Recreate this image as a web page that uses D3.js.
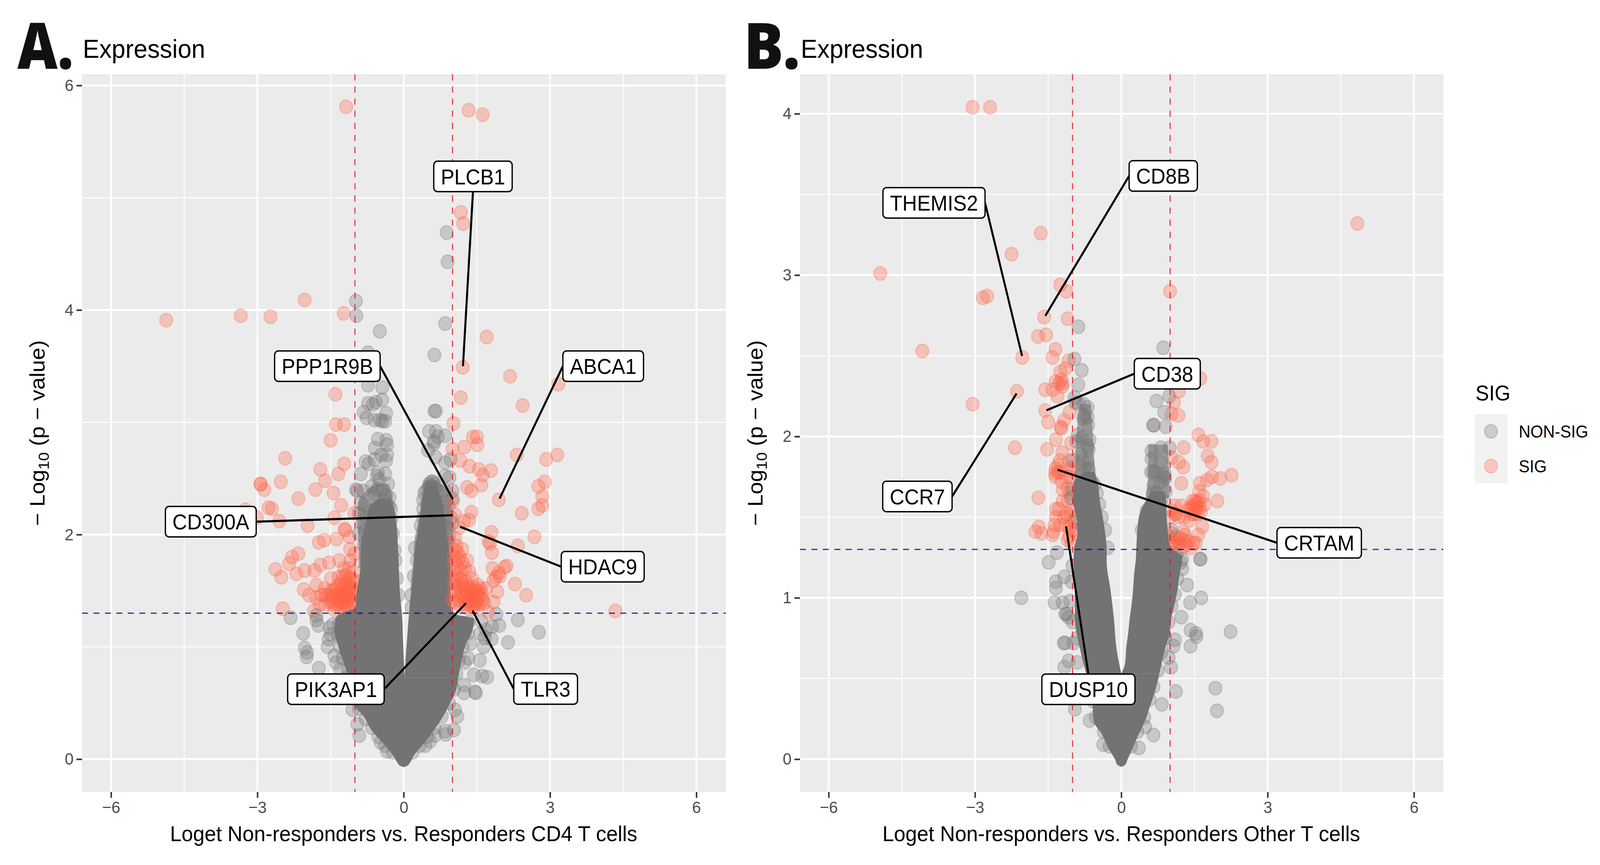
<!DOCTYPE html>
<html>
<head>
<meta charset="utf-8">
<style>
 html, body { margin: 0; padding: 0; background: #fff; overflow: hidden; }
 svg { display: block; width: 100vw; height: 100vh; }
 text { font-family: "Liberation Sans", sans-serif; }
 .tick text { fill: #4d4d4d; font-size: 43px; }
 .tick line { stroke: #333; stroke-width: 4px; }
 .axis-title { font-size: 56px; fill: #000; }
 .dot { stroke-width: 3px; stroke-opacity: 0.3; fill-opacity: 0.3; }
 .repel rect { fill: #fff; stroke: #000; stroke-width: 3.5px; }
 .repel text { font-size: 55px; fill: #000; text-anchor: middle; }
 .repel line { stroke: #000; stroke-width: 5.5px; }
</style>
</head>
<body>
<svg id="chart" viewBox="0 0 4330 2214" preserveAspectRatio="none"></svg>
<script src="https://d3js.org/d3.v7.min.js"></script>
<script>
// values, [log fold change, -log10 p]
const sigA = [
  [-4.87,3.91],[-3.34,3.95],[-2.73,3.94],[-2.03,4.09],[-1.23,3.97],[-1.18,5.81],[1.33,5.78],[1.62,5.74],[1.17,4.87],[1.22,4.77],[1.70,3.76],
  [-1.40,3.25],[-1.39,2.98],[-1.22,2.98],[-1.50,2.84],[-2.43,2.68],[-1.22,2.63],[-1.71,2.58],[-1.34,2.54],[-1.61,2.48],[-2.93,2.45],[-2.94,2.45],[-2.86,2.40],[-2.52,2.47],[-1.81,2.40],[-1.44,2.37],[-2.16,2.32],[-1.28,2.26],[-2.77,2.24],[-2.70,2.23],[-3.24,2.22],[-3.01,2.15],[-2.55,2.12],[-1.97,2.08],[-1.42,2.15],[-1.01,2.19],[-1.21,2.05],[-1.20,2.04],[-1.38,1.96],[-1.74,1.93],[-1.63,1.95],[-1.11,1.98],[-1.10,1.87],[-1.01,1.83],
  [-2.16,1.83],[-2.29,1.80],[-2.35,1.74],[-2.63,1.69],[-2.51,1.62],[-2.20,1.65],[-2.03,1.68],[-1.83,1.68],[-1.71,1.73],[-1.53,1.75],[-1.32,1.77],[-1.22,1.70],[-1.09,1.77],[-1.49,1.61],[-1.25,1.63],[-1.03,1.67],[-2.05,1.51],[-1.94,1.46],[-1.79,1.55],[-1.80,1.44],[-1.60,1.46],[-1.44,1.50],[-1.25,1.52],[-1.06,1.53],[-1.01,1.59],
  [-1.38,1.47],[-1.19,1.47],[-1.09,1.46],[-1.47,1.41],[-1.33,1.42],[-1.22,1.39],[-1.09,1.38],[-1.01,1.46],[-1.55,1.46],[-1.68,1.46],[-1.33,1.55],[-1.17,1.56],[-1.11,1.61],[-1.06,1.39],[-1.25,1.45],[-1.15,1.50],[-1.30,1.49],[-1.40,1.52],[-1.18,1.42],[-1.12,1.44],[-1.28,1.40],[-1.04,1.50],[-1.35,1.44],[-1.50,1.50],
  [-1.60,1.38],[-1.52,1.40],[-1.44,1.38],[-1.36,1.38],[-1.30,1.35],[-1.16,1.36],[-1.08,1.42],[-1.12,1.52],[-1.20,1.58],[-1.28,1.58],[-1.34,1.62],[-1.18,1.64],[-1.12,1.70],[-1.06,1.60],[-1.62,1.52],[-1.72,1.38],[-1.48,1.45],[-1.14,1.34],[-1.24,1.48],[-1.10,1.56],[-1.30,1.42],[-1.20,1.44],
  [-2.48,1.34],[-1.84,1.32],[-1.42,1.33],[-1.21,1.33],
  [1.21,3.49],[2.18,3.41],[3.17,3.34],[1.17,3.22],[2.44,3.15],[1.02,2.99],[1.42,2.87],[1.50,2.87],[1.24,2.78],[1.51,2.80],[1.00,2.76],[1.16,2.66],[1.35,2.61],[1.54,2.58],[1.62,2.53],[1.79,2.57],[1.59,2.44],[1.30,2.42],[1.39,2.39],[2.32,2.71],[2.92,2.67],[3.15,2.71],[2.89,2.47],[2.76,2.43],[2.84,2.34],[2.84,2.26],[2.76,2.23],[1.95,2.31],[2.42,2.19],[1.01,2.30],[1.39,2.20],[1.34,2.13],[1.23,2.12],[1.05,2.18],[1.13,2.06],[1.80,2.02],[1.74,1.94],[1.77,1.92],[1.81,1.84],[2.34,1.90],[2.68,1.98],[1.05,1.97],[1.20,1.87],[1.11,1.84],[1.05,1.86],[1.30,1.77],[1.21,1.75],[1.11,1.77],[1.05,1.67],[1.35,1.67],[1.40,1.61],[1.16,1.61],[1.03,1.59],[1.82,1.70],[2.11,1.72],[2.07,1.71],[1.95,1.66],[1.89,1.62],[1.84,1.59],[1.97,1.63],[1.92,1.49],[2.28,1.56],[2.51,1.46],[1.69,1.52],[1.84,1.40],[1.65,1.39],[1.73,1.31],[4.34,1.32],
  [1.49,1.46],[1.38,1.49],[1.54,1.50],[1.43,1.41],[1.32,1.41],[1.51,1.39],[1.27,1.46],[1.16,1.50],[1.08,1.55],[1.43,1.53],[1.60,1.47],[1.62,1.42],[1.21,1.55],[1.35,1.44],[1.46,1.50],[1.40,1.36],[1.27,1.38],[1.49,1.41],[1.57,1.44],[1.10,1.42],[1.16,1.37],[1.05,1.40],[1.35,1.52],[1.30,1.49],[1.43,1.46],[1.51,1.47],[1.38,1.43],[1.46,1.38],
  [1.03,1.75],[1.10,1.70],[1.17,1.68],[1.25,1.70],[1.08,1.62],[1.20,1.58],[1.28,1.58],[1.03,1.50],[1.10,1.48],[1.24,1.44],[1.32,1.54],[1.00,1.42],[1.15,1.80],[1.08,1.90],[1.02,1.80],[1.56,1.38],[1.44,1.34],[1.36,1.38],[1.30,1.35],[1.52,1.55],[1.58,1.52],[1.12,1.55],[1.18,1.45],[1.25,1.52]
];
const grayA = [
  [0.88,4.69],[0.90,4.43],[-0.98,4.08],[-0.97,3.95],[-0.49,3.81],[0.85,3.88],[0.63,3.60],[-0.73,3.62],
  [-0.73,3.33],[-0.44,3.31],[-0.44,3.20],[-0.73,3.17],[-0.63,3.16],[-0.57,3.18],[-0.82,3.09],[-0.76,3.04],[-0.60,3.02],[-0.49,3.02],[-0.38,3.01],[-0.36,3.08],[-0.44,3.01],[-0.53,2.85],[-0.36,2.84],[-0.34,2.80],[-0.59,2.77],[-0.46,2.71],[-0.34,2.71],[-0.78,2.65],[-0.72,2.63],[-0.60,2.67],[-0.36,2.66],[-0.88,2.54],[-0.53,2.55],[-0.38,2.54],[-0.65,2.43],[-0.32,2.45],[-0.98,2.40],[-0.95,2.39],[-0.83,2.39],[-0.60,2.36],[-0.36,2.35],[-0.29,2.33],[-0.80,2.26],[-0.92,2.19],[-0.92,2.01],[-0.79,2.03],[-0.82,1.91],[-0.88,2.28],[-0.55,2.52],[-0.50,2.49],[-0.45,2.40],[-0.55,2.40],[-0.40,2.30],[-0.30,2.25],
  [-0.26,2.23],[-0.25,2.14],[-0.22,2.01],[-0.19,1.86],[-0.17,1.77],[-0.14,1.61],[-0.11,1.46],[-0.76,2.15],[-0.85,2.10],[-0.70,2.20],
  [0.63,3.10],[0.66,3.10],[0.52,2.92],[0.66,2.92],[0.85,2.88],[0.70,2.87],[0.62,2.83],[0.62,2.81],[0.50,2.75],[0.65,2.69],[0.85,2.64],[0.96,2.67],[0.84,2.52],[0.94,2.51],[1.00,2.39],[1.00,2.32],
  [0.57,2.47],[0.52,2.45],[0.62,2.45],[0.57,2.43],[0.57,2.40],[0.51,2.42],[0.65,2.42],[0.59,2.47],[0.46,2.39],[0.70,2.39],[0.42,2.37],[0.84,2.39],[0.40,2.31],[0.57,2.34],[0.70,2.29],[0.84,2.29],[0.92,2.26],[0.40,2.23],[0.54,2.25],[0.67,2.22],[0.84,2.20],[0.97,2.15],[0.40,2.15],[0.51,2.15],[1.00,2.10],[0.35,2.08],[0.81,2.08],[0.92,2.06],[0.67,2.01],[0.81,1.98],[0.93,1.98],[0.78,1.91],[0.92,1.92],[0.23,1.88],[0.27,1.77],[0.21,1.63],[0.16,1.46],[0.16,1.35],[0.55,2.36],[0.60,2.30],[0.48,2.28],[0.60,2.15],[0.45,2.05],[0.55,2.05],
  [-2.32,1.26],[-1.79,1.28],[-1.79,1.24],[-1.75,1.19],[-2.06,1.12],[-2.03,0.99],[-1.98,0.95],[-1.99,0.91],[-1.74,0.81],[-1.52,1.17],[-1.54,1.07],[-1.56,1.00],[-1.42,0.92],[-1.39,0.86],[-1.50,1.11],[-1.45,1.20],[-1.30,0.80],[-1.20,0.72],[-0.95,0.31],[-0.91,0.21],[-1.05,0.44],[1.05,0.44],[1.10,0.38],[0.85,0.25],[0.86,0.22],[1.03,0.26],[0.64,0.21],[0.54,0.16],[0.44,0.12],[-0.34,0.07],[-0.47,0.15],
  [1.56,0.88],[1.44,0.75],[1.61,0.74],[1.71,0.73],[1.24,0.66],[1.24,0.59],[1.48,0.59],[1.46,0.60],[1.37,1.03],[1.64,1.00],[1.80,1.07],[1.66,1.08],[2.14,1.04],[1.96,1.19],[1.81,1.18],[1.90,1.29],[2.34,1.24],[1.59,1.23],[1.69,1.15],[1.57,1.12],[2.77,1.13],[1.25,0.86],[1.32,0.90],
  [-1.33,1.20],[-1.35,1.10],[-1.30,1.00],[-1.25,0.90],[-1.14,0.80],[-1.05,0.68],[-1.00,0.56],[-0.92,0.45],[-0.78,0.36],[-0.65,0.28],[-0.52,0.20],[-0.38,0.12],[-0.22,0.06],
  [1.33,1.22],[1.31,1.12],[1.21,1.00],[1.13,0.88],[1.08,0.76],[1.03,0.62],[0.93,0.50],[0.78,0.38],[0.63,0.28],[0.48,0.20],[0.33,0.12],[0.18,0.06]
];
const sigB = [
  [-3.05,4.04],[-2.69,4.04],[-1.65,3.26],[-2.25,3.13],[-4.94,3.01],[-4.08,2.53],[4.84,3.32],[1.00,2.90],[-1.25,2.94],[-1.13,2.90],
  [-2.84,2.86],[-2.75,2.87],[-1.58,2.74],[-1.10,2.73],[-1.71,2.62],[-1.54,2.63],[-1.35,2.54],[-1.41,2.49],[-2.03,2.49],[-1.08,2.47],[-1.15,2.42],[-1.25,2.40],[-1.35,2.34],[-1.23,2.35],[-1.20,2.33],[-1.27,2.33],[-1.21,2.31],[-1.56,2.29],[-1.41,2.29],[-1.31,2.25],[-2.14,2.28],[-3.05,2.20],[-1.56,2.16],[-1.50,2.09],[-1.06,2.15],[-1.17,2.10],[-1.24,2.06],[-1.23,2.05],[-1.34,1.98],[-1.03,1.96],[-2.18,1.93],[-1.52,1.92],[-1.21,1.90],[-1.26,1.85],[-1.07,1.85],[-1.35,1.80],[-1.36,1.77],[-1.35,1.75],[-1.04,1.79],[-1.01,1.81],[-1.20,1.67],[-1.20,1.60],[-1.10,1.68],[-1.70,1.62],[-1.34,1.55],[-1.34,1.50],[-1.37,1.45],[-1.17,1.50],[-1.04,1.51],[-1.07,1.44],[-0.97,1.42],[-1.07,1.38],[-1.02,1.34],[-1.69,1.44],[-1.76,1.41],[-1.64,1.40],[-1.41,1.39],[-1.39,1.41],[-0.97,1.47],[-1.02,1.54],
  [-1.10,1.60],[-1.05,1.65],[-1.15,1.45],[-1.10,1.36],[-1.00,1.42],[-1.25,1.45],[-1.28,1.55],[-1.12,1.52],[-1.05,1.75],[-1.12,1.75],[-1.22,1.72],[-1.30,1.78],[-1.30,1.82],[-1.25,1.78],
  [1.62,2.36],[1.18,2.28],[1.08,2.21],[1.03,2.14],[1.17,2.13],[1.58,2.01],[1.68,1.97],[1.85,1.97],[1.28,1.93],[1.77,1.88],[1.85,1.84],[1.03,1.87],[1.18,1.84],[1.27,1.81],[1.23,1.71],[1.61,1.71],[1.76,1.73],[1.86,1.75],[2.03,1.74],[2.26,1.76],[1.60,1.66],[1.68,1.63],[1.97,1.60],
  [1.51,1.58],[1.56,1.59],[1.46,1.60],[1.61,1.56],[1.41,1.56],[1.71,1.58],[1.36,1.54],[1.51,1.55],[1.63,1.53],[1.23,1.57],[1.10,1.57],[1.03,1.54],[1.00,1.50],[1.09,1.52],[1.28,1.50],[1.41,1.48],[1.66,1.44],[1.27,1.41],[1.58,1.39],[1.53,1.34],[1.31,1.39],[1.05,1.34],[1.15,1.33],[1.33,1.33],[1.43,1.31],[1.48,1.34],[0.98,1.38],[1.25,1.31],[1.52,1.60],[1.55,1.56],[1.47,1.57],[1.10,1.33],[1.20,1.34],
  [1.02,1.40],[1.06,1.36],[1.12,1.38],[1.20,1.37],[1.28,1.36],[1.36,1.35],[1.12,1.52],[1.18,1.50],[1.50,1.52],[1.45,1.52],[1.56,1.52],[1.60,1.60]
];
const grayB = [
  [-2.05,1.00],[-0.88,2.68],[-0.96,2.48],[-0.81,2.41],[-0.88,2.32],[-0.96,2.24],[-0.77,2.20],[-0.69,2.18],[-0.86,2.20],[-0.94,2.21],[-0.78,2.11],[-0.69,2.12],[-0.77,2.13],[-0.68,2.07],[-0.89,2.01],[-0.81,1.99],[-0.92,1.97],[-0.65,1.98],[-0.69,1.94],[-0.67,1.92],[-0.83,1.89],[-0.79,1.85],[-0.69,1.84],[-0.67,1.80],[-0.74,1.80],[-0.79,1.77],[-0.67,1.74],[-0.99,1.85],[-0.72,1.72],[-0.82,1.72],[-0.55,1.70],[-0.60,1.72],[-0.50,1.65],[-0.45,1.58],[-0.40,1.50],[-0.33,1.42],[-0.28,1.31],[-1.00,1.67],[-1.03,1.62],[-0.90,1.50],[-0.80,1.44],
  [0.86,2.55],[0.72,2.22],[0.98,2.25],[0.88,2.15],[0.65,2.07],[0.67,2.07],[0.91,2.06],[0.62,1.91],[0.81,1.93],[0.99,1.93],[0.62,1.86],[0.80,1.84],[0.61,1.78],[0.65,1.78],[0.88,1.75],[0.90,1.74],[0.89,1.77],[0.66,1.70],[0.91,1.66],[0.64,1.65],[0.83,1.61],[0.52,1.54],[0.42,1.42],[1.03,1.42],[1.62,1.24],[1.25,1.24],[1.13,1.27],[0.72,1.65],[0.80,1.72],[0.70,1.78],
  [-1.32,1.28],[-1.49,1.22],[-1.17,1.13],[-1.34,1.10],[-1.34,1.06],[-1.37,0.97],[-1.20,0.97],[-1.15,0.90],[-1.08,0.88],[-1.12,0.90],[-1.18,0.72],[-1.15,0.72],[-0.98,0.72],[-1.08,0.61],[-1.17,0.57],[-0.90,0.60],[-0.95,0.31],[-0.65,0.24],[-0.37,0.09],[0.36,0.07],[0.66,0.15],[0.83,0.34],[1.12,0.42],[1.02,0.57],[0.97,0.63],[1.93,0.44],[1.96,0.30],[2.24,0.79],[1.54,0.76],[1.53,0.78],[1.42,0.80],[1.42,0.70],[1.41,0.97],[1.64,1.00],[1.35,1.08],[1.23,0.88],[1.62,1.24],[1.25,1.18],[1.10,0.74],[1.07,0.70],[0.49,0.20],[-1.00,1.20],[-1.02,1.10],[-1.05,0.98],[-1.00,0.85],[-0.90,0.75],
  [1.22,1.22],[1.15,1.12],[1.10,1.02],[1.03,0.95],[0.97,0.85],[0.90,0.75],[0.82,0.66],[0.75,0.55],[0.66,0.45],[0.58,0.37],[0.47,0.26],[0.33,0.17],[0.20,0.08],
  [-0.66,0.46],[-0.58,0.36],[-0.52,0.26],[-0.36,0.17],[-0.24,0.08]
];

// the overplotted middle of each volcano is too dense to count, so it is traced
// as outlines: [y, left x, right x]
const coreLeftA = [[2.32,-0.50,-0.28],[2.25,-0.70,-0.22],[2.1,-0.78,-0.15],[1.9,-0.88,-0.12],[1.7,-0.89,-0.10],[1.5,-0.96,-0.08],[1.35,-0.99,-0.05],[1.3,-1.28,-0.04],[1.25,-1.40,-0.03],[1.135,-1.42,-0.02],[1.02,-1.35,-0.01],[0.905,-1.27,0],[0.73,-1.12,0.02]];
const coreRightA = [[2.45,0.50,0.62],[2.38,0.42,0.72],[2.3,0.38,0.78],[2.15,0.33,0.85],[2.0,0.28,0.88],[1.9,0.24,0.92],[1.8,0.22,0.95],[1.6,0.18,0.95],[1.4,0.13,0.97],[1.3,0.11,0.99],[1.25,0.10,1.44],[1.135,0.08,1.40],[1.02,0.06,1.27],[0.905,0.04,1.2],[0.73,0.02,1.12]];
const coreBaseA = [[0.73,-1.12,1.12],[0.613,-1.10,1.07],[0.498,-1.05,0.95],[0.382,-0.82,0.81],[0.265,-0.67,0.63],[0.15,-0.44,0.43],[0.035,-0.22,0.21],[-0.03,-0.13,0.13],[-0.06,-0.07,0.07],[-0.07,-0.01,0.01]];
const coreLeftB = [[1.78,-0.75,-0.55],[1.7,-0.98,-0.48],[1.6,-0.99,-0.44],[1.5,-0.92,-0.38],[1.4,-0.9,-0.33],[1.3,-0.97,-0.30],[1.225,-0.98,-0.30],[1.046,-0.95,-0.22],[0.867,-0.95,-0.15],[0.688,-0.85,-0.10],[0.53,-0.72,0]];
const coreRightB = [[1.66,0.62,0.88],[1.6,0.5,0.92],[1.5,0.36,0.93],[1.32,0.31,1.0],[1.25,0.30,1.25],[1.136,0.26,1.19],[1.046,0.24,1.15],[0.957,0.21,1.09],[0.867,0.17,1.02],[0.777,0.14,0.99],[0.688,0.1,0.9],[0.598,0.08,0.83],[0.53,0,0.78]];
const coreBaseB = [[0.53,-0.72,0.78],[0.419,-0.65,0.69],[0.329,-0.59,0.59],[0.24,-0.57,0.49],[0.15,-0.39,0.35],[0.06,-0.25,0.22],[0,-0.13,0.13],[-0.035,-0.08,0.08],[-0.047,-0.01,0.01]];
// thinner overplotting above the cores, same form
const hazeLeftA = [[2.45,-0.60,-0.30],[2.3,-0.92,-0.22],[2.1,-0.95,-0.15],[1.9,-0.92,-0.12],[1.7,-0.93,-0.10]];
const hazeRightA = [[2.48,0.42,0.70],[2.35,0.38,0.95],[2.15,0.32,1.0],[1.95,0.22,1.0],[1.8,0.20,1.0],[1.5,0.13,1.0]];
const hazeLeftB = [[2.2,-0.85,-0.62],[2.0,-0.92,-0.58],[1.8,-0.94,-0.54],[1.68,-1.0,-0.46]];
const hazeRightB = [[1.95,0.55,0.95],[1.75,0.55,0.98],[1.62,0.5,0.98]];

// gene, point x, point y, label x, label y
const genesA = [
  ["PLCB1",1.215,3.50,1.42,5.19],["PPP1R9B",1.007,2.315,-1.565,3.50],["ABCA1",1.965,2.32,4.09,3.50],
  ["CD300A",1.007,2.172,-3.955,2.115],["HDAC9",1.155,2.07,4.08,1.714],["PIK3AP1",1.276,1.389,-1.39,0.623],["TLR3",1.412,1.323,2.91,0.625]
];
const genesB = [
  ["CD8B",-1.557,2.748,0.86,3.615],["THEMIS2",-2.034,2.499,-3.84,3.448],["CD38",-1.534,2.162,0.943,2.389],
  ["CCR7",-2.148,2.266,-4.18,1.628],["CRTAM",-1.307,1.794,4.057,1.341],["DUSP10",-1.133,1.443,-0.674,0.433]
];

const xTicks = [-6,-3,0,3,6];
const xMinor = [-4.5,-1.5,1.5,4.5];
const yTicksA = [0,2,4,6];
const yMinorA = [1,3,5];
const yTicksB = [0,1,2,3,4];
const yMinorB = [0.5,1.5,2.5,3.5];
const legendNames = ["NON-SIG","SIG"];
const colors = { "NON-SIG": "#737373", "SIG": "#FF6347" };

const svg = d3.select("#chart");
const panelTop = 190, panelBottom = 2027;

function drawDots(g, rows, x, y, name) {
  g.append("g").selectAll("circle").data(rows).join("circle")
    .attr("class", "dot")
    .attr("cx", d => x(d[0])).attr("cy", d => y(d[1])).attr("r", 17.5)
    .attr("fill", colors[name]).attr("stroke", colors[name]);
}

function drawPanel(p) {
  const x = d3.scaleLinear().domain(p.xDomain).range([p.left, p.right]);
  const y = d3.scaleLinear().domain(p.yDomain).range([panelBottom, panelTop]);
  const g = svg.append("g");

  g.append("rect").attr("x", p.left).attr("y", panelTop)
    .attr("width", p.right - p.left).attr("height", panelBottom - panelTop).attr("fill", "#ebebeb");

  // grid
  const vgrid = (vals, w) => g.append("g").selectAll("line").data(vals).join("line")
    .attr("x1", d => x(d)).attr("x2", d => x(d)).attr("y1", panelTop).attr("y2", panelBottom)
    .attr("stroke", "#fff").attr("stroke-width", w);
  const hgrid = (vals, w) => g.append("g").selectAll("line").data(vals).join("line")
    .attr("y1", d => y(d)).attr("y2", d => y(d)).attr("x1", p.left).attr("x2", p.right)
    .attr("stroke", "#fff").attr("stroke-width", w);
  hgrid(p.yMinor, 2.5); vgrid(xMinor, 2.5);
  hgrid(p.yTicks, 5); vgrid(xTicks, 5);

  // axes
  const xAxis = d3.axisBottom(x).tickValues(xTicks).tickSize(15).tickPadding(8).tickFormat(d3.format("d"));
  const yAxis = d3.axisLeft(y).tickValues(p.yTicks).tickSize(15).tickPadding(8).tickFormat(d3.format("d"));
  g.append("g").attr("transform", `translate(0,${panelBottom})`).call(xAxis).call(a => a.select(".domain").remove());
  g.append("g").attr("transform", `translate(${p.left},0)`).call(yAxis).call(a => a.select(".domain").remove());

  // points, sig under the grey except on the right of panel A
  const under = p.sig.filter(d => !(p.sigOver && d[0] > 0));
  const over = p.sig.filter(d => p.sigOver && d[0] > 0);
  drawDots(g, under, x, y, "SIG");
  const area = d3.area().curve(d3.curveMonotoneY).y(d => y(d[0])).x0(d => x(d[1])).x1(d => x(d[2]));
  p.haze.forEach(c => g.append("path").attr("d", area(c)).attr("fill", colors["NON-SIG"]).attr("fill-opacity", 0.6));
  p.cores.forEach(c => g.append("path").attr("d", area(c)).attr("fill", colors["NON-SIG"]));
  drawDots(g, p.gray, x, y, "NON-SIG");
  drawDots(g, over, x, y, "SIG");

  // threshold lines
  g.append("g").selectAll("line").data([-1, 1]).join("line")
    .attr("x1", d => x(d)).attr("x2", d => x(d)).attr("y1", panelTop).attr("y2", panelBottom)
    .attr("stroke", "#e3101a").attr("stroke-opacity", 0.8).attr("stroke-width", 3).attr("stroke-dasharray", "16 15");
  g.append("line").attr("x1", p.left).attr("x2", p.right).attr("y1", y(1.3)).attr("y2", y(1.3))
    .attr("stroke", "#00008b").attr("stroke-opacity", 0.8).attr("stroke-width", 3).attr("stroke-dasharray", "16 15");

  // gene labels
  p.genes.forEach(row => {
    const [gene, px, py, lx, ly] = row;
    const box = g.append("g").attr("class", "repel");
    const seg = box.append("line");
    const rect = box.append("rect");
    const t = box.append("text").attr("x", x(lx)).attr("y", y(ly) + 20).text(gene);
    const w = t.node().getComputedTextLength() + 38, h = 78;
    rect.attr("x", x(lx) - w / 2).attr("y", y(ly) - h / 2).attr("width", w).attr("height", h).attr("rx", 10);
    const dx = x(px) - x(lx), dy = y(py) - y(ly);
    let sx = x(lx), sy = y(ly);
    if (Math.abs(dx) > w / 2) sx += Math.sign(dx) * w / 2;
    else sy += Math.sign(dy) * h / 2;
    seg.attr("x1", sx).attr("y1", sy).attr("x2", x(px)).attr("y2", y(py));
  });

  // titles
  g.append("text").attr("x", p.left + 2).attr("y", 148).attr("font-size", 67).text("Expression");
  g.append("text").attr("x", p.tagX).attr("y", 176)
    .style("font-family", "'Noto Sans', sans-serif").attr("font-weight", 900)
    .attr("font-size", 164).attr("fill", "#111")
    .attr("textLength", 152).attr("lengthAdjust", "spacingAndGlyphs").text(p.tag);
  g.append("text").attr("class", "axis-title").attr("text-anchor", "middle")
    .attr("x", x(0)).attr("y", 2153).text(p.xTitle);
  const yt = g.append("text").attr("class", "axis-title").attr("text-anchor", "middle").style("font-size", "57px")
    .attr("transform", `translate(${p.left - 102},${(panelTop + panelBottom) / 2}) rotate(-90)`);
  yt.append("tspan").text("\u2212 Log");
  yt.append("tspan").style("font-size", "40px").attr("dy", 12).text("10");
  yt.append("tspan").attr("dy", -12).text(" (p \u2212 value)");
}

drawPanel({
  left: 222, right: 1964, xDomain: [-6.595, 6.602], yDomain: [-0.292, 6.10],
  yTicks: yTicksA, yMinor: yMinorA, sig: sigA, gray: grayA, sigOver: true,
  cores: [coreLeftA, coreRightA, coreBaseA], haze: [hazeLeftA, hazeRightA], genes: genesA, tag: "A.", tagX: 47,
  xTitle: "Loget Non-responders vs. Responders CD4 T cells"
});
drawPanel({
  left: 2165, right: 3906, xDomain: [-6.587, 6.602], yDomain: [-0.203, 4.245],
  yTicks: yTicksB, yMinor: yMinorB, sig: sigB, gray: grayB, sigOver: false,
  cores: [coreLeftB, coreRightB, coreBaseB], haze: [hazeLeftB, hazeRightB], genes: genesB, tag: "B.", tagX: 2013,
  xTitle: "Loget Non-responders vs. Responders Other T cells"
});

// legend
const legend = svg.append("g");
legend.append("text").attr("x", 3993).attr("y", 1025).attr("font-size", 55).text("SIG");
legend.append("rect").attr("x", 3991).attr("y", 1060).attr("width", 89).attr("height", 177).attr("fill", "#f2f2f2");
const keyY = d3.scalePoint().domain(legendNames).range([1104, 1193]);
legendNames.forEach(n => {
  legend.append("circle").attr("class", "dot").attr("cx", 4035).attr("cy", keyY(n)).attr("r", 17.5)
    .attr("fill", colors[n]).attr("stroke", colors[n]);
  legend.append("text").attr("x", 4110).attr("y", keyY(n) + 16).attr("font-size", 44).text(n);
});
</script>
</body>
</html>
